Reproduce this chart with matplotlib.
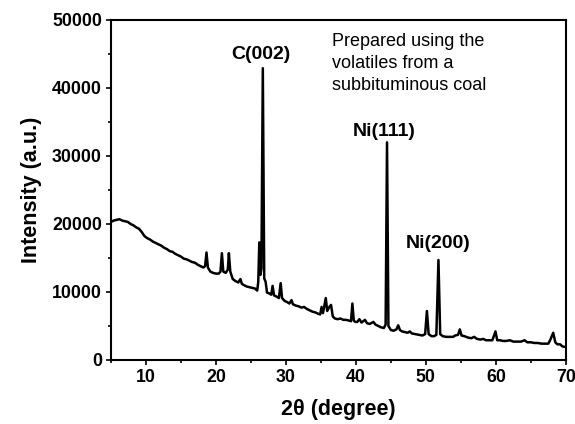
import matplotlib
matplotlib.use("Agg")
import matplotlib.pyplot as plt
from matplotlib.ticker import MultipleLocator

plt.rcParams['font.family'] = ['Liberation Sans', 'DejaVu Sans']

# XRD pattern (2theta in degree, intensity a.u.)
two_theta = [
    5.0, 5.4, 5.8, 6.2, 6.6, 7.0, 7.4, 7.8, 8.2, 8.6, 9.0, 9.4, 9.8, 10.2,
    10.6, 11.0, 11.4, 11.8, 12.2, 12.6, 13.0, 13.4, 13.8, 14.2, 14.6, 15.0,
    15.4, 15.8, 16.2, 16.6, 17.0, 17.4, 17.8, 18.2, 18.45, 18.65, 18.85, 19.2,
    19.6, 20.0, 20.4, 20.65, 20.85, 21.05, 21.4, 21.7, 21.85, 22.05, 22.4,
    22.8, 23.2, 23.5, 23.7, 24.0, 24.4, 24.8, 25.2, 25.6, 25.9, 26.05, 26.2,
    26.35, 26.5, 26.7, 26.9, 27.1, 27.3, 27.6, 27.9, 28.1, 28.3, 28.7, 29.0,
    29.25, 29.45, 29.8, 30.2, 30.5, 30.8, 31.0, 31.4, 31.8, 32.2, 32.6, 33.0,
    33.4, 33.8, 34.2, 34.6, 34.9, 35.1, 35.3, 35.7, 35.9, 36.2, 36.45, 36.7,
    37.0, 37.4, 37.8, 38.2, 38.6, 39.0, 39.3, 39.5, 39.7, 39.9, 40.2, 40.5,
    40.8, 41.3, 41.6, 42.0, 42.5, 42.8, 43.2, 43.6, 44.0, 44.25, 44.45, 44.65,
    45.0, 45.4, 45.8, 46.05, 46.3, 46.6, 47.0, 47.4, 47.7, 48.0, 48.5, 49.0,
    49.5, 49.9, 50.15, 50.4, 50.8, 51.2, 51.5, 51.8, 52.05, 52.4, 52.9, 53.4,
    53.9, 54.2, 54.6, 54.85, 55.1, 55.5, 56.0, 56.5, 56.9, 57.3, 57.8, 58.2,
    58.6, 59.0, 59.5, 59.95, 60.2, 60.6, 61.0, 61.5, 62.0, 62.5, 63.0, 63.6,
    64.1, 64.5, 65.0, 65.5, 66.0, 66.5, 67.0, 67.5, 67.8, 68.2, 68.5, 68.8,
    69.2, 69.5, 70.0,
]
intensity = [
    20300, 20500, 20600, 20700, 20500, 20400, 20300, 20000, 19800, 19500,
    19300, 18800, 18200, 17900, 17700, 17400, 17200, 17000, 16800, 16500,
    16300, 16000, 15900, 15600, 15400, 15200, 14900, 14800, 14600, 14400,
    14300, 14000, 13800, 13600, 13800, 15800, 13600, 13000, 12800, 12700,
    12700, 13000, 15700, 13000, 12800, 13300, 15700, 13000, 11900, 11600,
    11400, 11900, 11200, 11000, 10800, 10700, 10600, 10500, 10200, 11500,
    17300, 12500, 13500, 42900, 12000, 11500, 9900, 9800, 9600, 10900, 9500,
    9300, 9100, 11300, 9100, 8700, 8500, 8300, 8800, 8200, 8000, 7900, 7700,
    7800, 7500, 7300, 7100, 7000, 6800, 6700, 7800, 6900, 9100, 7200, 7800,
    8100, 6400, 6100, 6000, 6100, 5900, 5900, 5800, 5700, 8300, 5800, 5600,
    5600, 6000, 5500, 5900, 5400, 5300, 5600, 5200, 5000, 4800, 4700, 5200,
    32000, 5000, 4400, 4300, 4500, 5100, 4400, 4200, 4100, 4000, 4200, 3900,
    3800, 3700, 3600, 3800, 7200, 3800, 3500, 3500, 3700, 14700, 3800, 3500,
    3400, 3400, 3400, 3600, 3700, 4500, 3600, 3500, 3300, 3200, 3400, 3100,
    3000, 3100, 2900, 2900, 2900, 4200, 2900, 2900, 2800, 2800, 2900, 2700,
    2700, 2700, 2900, 2600, 2600, 2500, 2500, 2400, 2400, 2400, 3000, 4000,
    2600, 2300, 2300, 2000, 1900,
]

peak_labels = ['C(002)', 'Ni(111)', 'Ni(200)']
label_x = [26.4, 44.1, 51.7]
label_y = [44300, 32900, 16500]

note = 'Prepared using the\nvolatiles from a\nsubbituminous coal'

fig = plt.figure(figsize=(5.75, 4.24), dpi=100)
ax = fig.add_axes([0.193, 0.151, 0.791, 0.802])

ax.plot(two_theta, intensity, color='black', lw=1.8)

for lab, xp, yp in zip(peak_labels, label_x, label_y):
    ax.text(xp, yp, lab, ha='center', va='baseline',
            fontsize=14, fontweight='bold')

ax.text(0.486, 0.962, note, transform=ax.transAxes, ha='left', va='top',
        fontsize=13, linespacing=1.38)

ax.set_xlim(5, 70)
ax.set_ylim(0, 50000)
ax.xaxis.set_major_locator(MultipleLocator(10))
ax.xaxis.set_minor_locator(MultipleLocator(5))
ax.yaxis.set_major_locator(MultipleLocator(10000))
ax.yaxis.set_minor_locator(MultipleLocator(5000))
ax.tick_params(which='both', direction='out', width=1.2, top=False, right=False)
ax.tick_params(which='major', length=3.5, labelsize=12.8, pad=3)
ax.tick_params(which='minor', length=2)
for lab in ax.get_xticklabels() + ax.get_yticklabels():
    lab.set_fontweight('bold')
for sp in ax.spines.values():
    sp.set_linewidth(1.5)

ax.set_xlabel('2θ (degree)', fontsize=15.5, fontweight='bold', labelpad=9)
ax.set_ylabel('Intensity (a.u.)', fontsize=15.5, fontweight='bold', labelpad=7)

fig.savefig('out.png', dpi=100)
